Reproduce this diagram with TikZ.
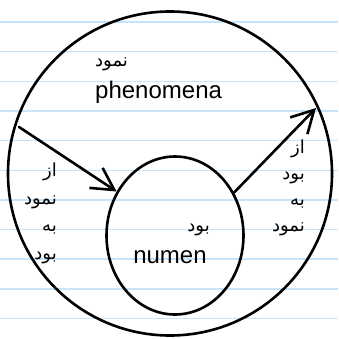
\documentclass[tikz,border=0pt]{standalone}
\usepackage{fontspec}
\setmainfont{Liberation Sans}
\newfontfamily\arabicfont[Script=Arabic]{DejaVu Sans}
\TeXXeTstate=1
\usetikzlibrary{arrows.meta,shapes.geometric}
\definecolor{ruleblue}{RGB}{200,228,248}
\newcommand{\fa}[1]{\beginR #1\endR}
\tikzset{
  ring/.style={draw, line width=2.6pt, inner sep=0pt},
  flow/.style={line width=2.6pt, line cap=round, line join=round, -{Straight Barb[length=22pt,width=24pt]}},
  latin/.style={font=\fontsize{24}{28}\selectfont, inner sep=0pt},
  farsi/.style={font=\arabicfont\fontsize{18}{27}\selectfont, inner sep=0pt, align=right},
}

\begin{document}
\begin{tikzpicture}[x=1pt,y=-1pt]
\useasboundingbox (0,0) rectangle (338,339);
\foreach \i in {0,...,10}
  \draw[ruleblue, line width=1.6pt] (0,22+29.66*\i) -- (338,22+29.66*\i);
%Ruled paper

\node[ring, circle, minimum size=324pt] (outer) at (170,173.5) {};
\node[farsi, anchor=base west] (phenfa) at (95,67) {\fa{نمود}};
\node[latin, anchor=base west] (phen) at (95,99) {phenomena};
%Group outer

\node[ring, ellipse, minimum width=137pt, minimum height=158pt] (inner) at (175,235.5) {};
\node[farsi, anchor=base east] (numfa) at (210,231) {\fa{بود}};
\node[latin, anchor=base] (num) at (170,263) {numen};
%Group inner

\coordinate (lfrom) at (19,127);
\draw[flow] (lfrom) -- (inner.143);
\node[farsi, anchor=base east, font=\arabicfont\fontsize{18}{27.5}\selectfont] (ltext) at (57,259)
  {\fa{از}\\\fa{نمود}\\\fa{به}\\\fa{بود}};
%Arrow in

\coordinate (rto) at (316,108);
\draw[flow] (inner.36) -- (rto);
\node[farsi, anchor=base east, font=\arabicfont\fontsize{18}{26}\selectfont] (rtext) at (305,231)
  {\fa{از}\\\fa{بود}\\\fa{به}\\\fa{نمود}};
%Arrow out
\end{tikzpicture}
\end{document}
